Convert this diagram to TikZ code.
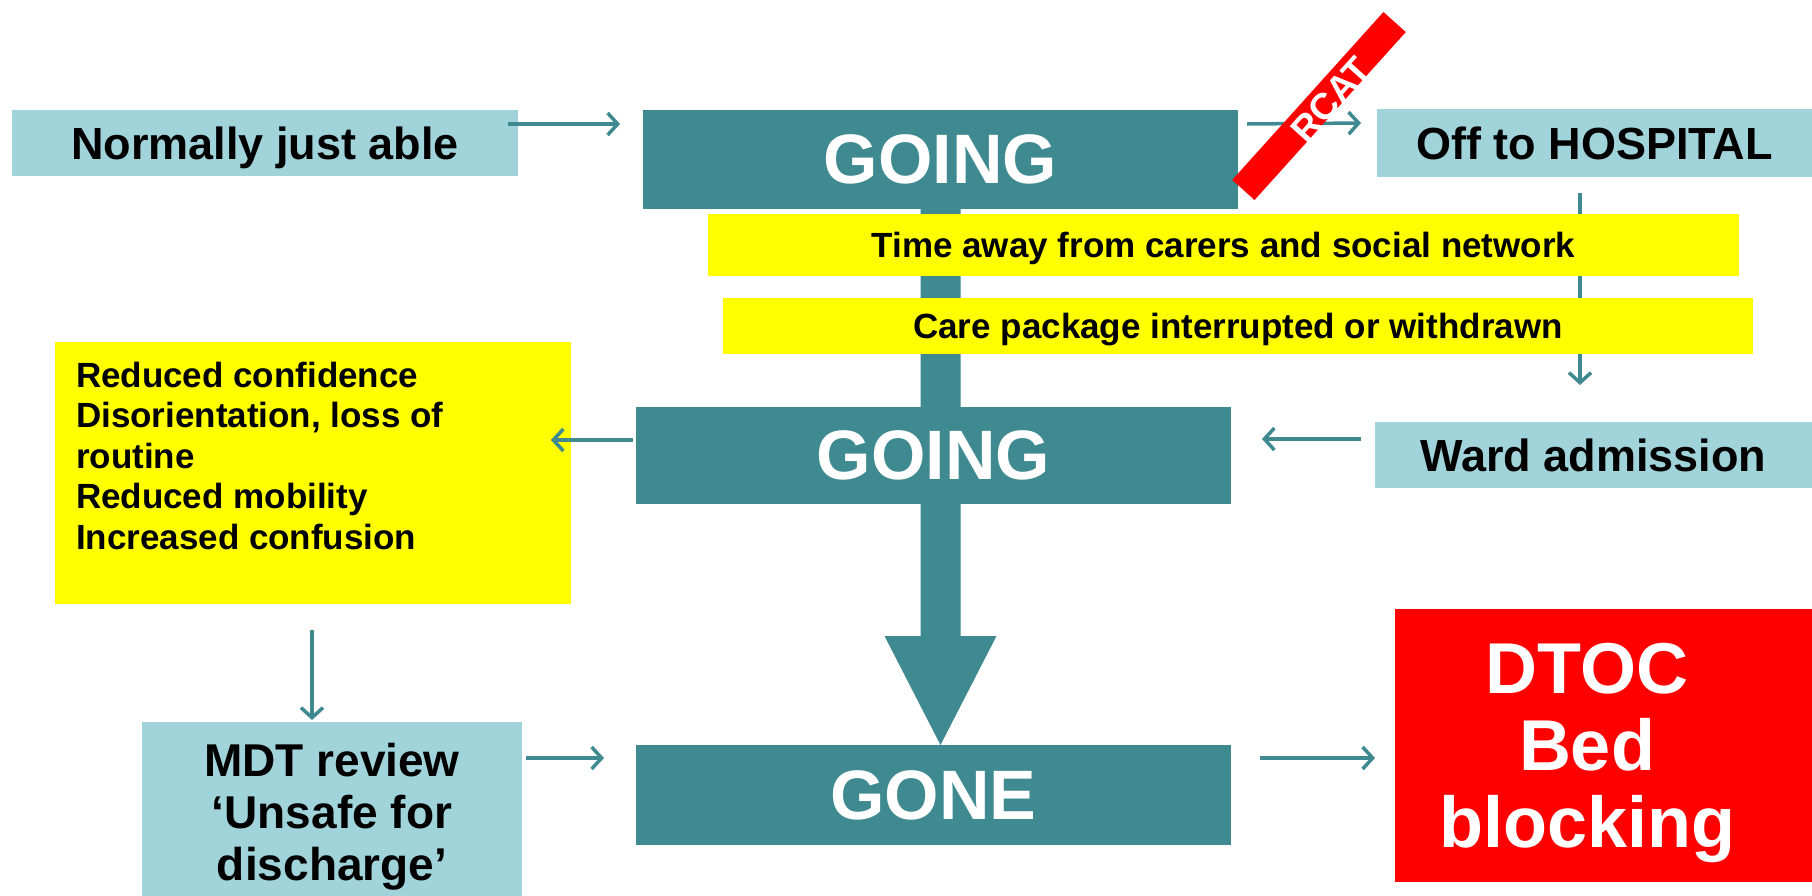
\documentclass[tikz,border=0pt]{standalone}
\usepackage{fontspec}
\setmainfont{Liberation Sans}
\usetikzlibrary{arrows.meta,calc}
\definecolor{tealdk}{HTML}{3E8A90}
\definecolor{tealarr}{HTML}{3E8A90}
\definecolor{teallt}{HTML}{A0D3DA}
\definecolor{yel}{HTML}{FFFF00}
\definecolor{redc}{HTML}{FF0000}
\pgfdeclarelayer{back}
\pgfdeclarelayer{bg}
\pgfsetlayers{back,bg,main}
\begin{document}
\begin{tikzpicture}[x=1pt,y=-1pt,
  every node/.style={inner sep=0pt, outer sep=0pt},
  lightbox/.style={fill=teallt, text=black, font=\fontsize{45}{52}\selectfont\bfseries},
  darkbox/.style={fill=tealdk, text=white, font=\fontsize{70}{80}\selectfont\bfseries, minimum width=595pt},
  yband/.style={fill=yel, text=black, text depth=0pt, font=\fontsize{35}{40}\selectfont\bfseries},
  arr/.style={draw=tealarr, line width=3.5pt, -{Straight Barb[length=10pt,width=22pt]}},
]
\begin{pgfonlayer}{back}
\fill[white] (0,0) rectangle (1812,895);
\end{pgfonlayer}
\useasboundingbox (0,0) rectangle (1812,895);

% boxes
\node[lightbox, text depth=0pt, minimum width=506pt, minimum height=66pt] (nja) at (265,143) {Normally just able};
\node[darkbox, minimum height=99pt] (going1) at (940.5,159.5) {GOING};
\node[lightbox, minimum width=435pt, minimum height=68pt] (oth) at (1594.5,143) {Off to HOSPITAL};
\node[yband, minimum width=1031pt, minimum height=62pt] (band1) at (1223.5,245) {Time away from carers and social network};
\node[yband, minimum width=1030pt, minimum height=56pt] (band2) at (1238,326) {Care package interrupted or withdrawn};
\node[darkbox, minimum height=97pt] (going2) at (933.5,455.5) {GOING};
\node[lightbox, minimum width=437pt, minimum height=66pt] (ward) at (1593.5,455) {Ward admission};
\node[fill=yel, minimum width=516pt, minimum height=262pt] (yelL) at (313,473) {};
\node[anchor=north west, align=left, font=\fontsize{35}{40.5}\selectfont\bfseries] (yelLtext) at (76,362)
  {Reduced confidence\\Disorientation, loss of\\routine\\Reduced mobility\\Increased confusion};
\node[lightbox, minimum width=380pt, minimum height=190pt, align=center,
  font=\fontsize{46}{52}\selectfont\bfseries] (mdt) at (332,817) {MDT review\\‘Unsafe for\\discharge’};
\node[darkbox, minimum height=100pt] (gone) at (933.5,795) {GONE};
\node[fill=redc, minimum width=417pt, minimum height=273pt] (dtoc) at (1603.5,745.5) {};
\node[text=white, align=center, font=\fontsize{72}{77}\selectfont\bfseries] (dtoctext) at (1587,753) {DTOC\\Bed\\blocking};

% big arrow and vertical thin arrow behind
\begin{pgfonlayer}{bg}
\fill[tealdk] ($(going1.south)+(-20,-1)$) -- ($(going1.south)+(20,-1)$)
  -- ($(going1.south |- gone.north)+(20,-109)$) -- ($(going1.south |- gone.north)+(56,-109)$)
  -- (going1.south |- gone.north)
  -- ($(going1.south |- gone.north)+(-56,-109)$) -- ($(going1.south |- gone.north)+(-20,-109)$) -- cycle;
\draw[arr] ($(oth.south)+(-14.5,16)$) -- ($(ward.north)+(-13.5,-37)$);
\end{pgfonlayer}

% connectors
\draw[arr] ($(nja.north east)+(-10,14)$) -- ($(going1.north west)+(-23,14)$);
\draw[arr] ($(going1.north east)+(9,14)$) -- ($(oth.north west)+(-16,14)$);
\draw[arr] ($(ward.north west)+(-14,17)$) -- ($(going2.north east)+(31,32)$);
\draw[arr] ($(going2.north west)+(-3,33)$) -- ($(yelL.north east)+(-20,98)$);
\draw[arr] ($(yelL.south)+(-1,26)$) -- ($(mdt.north)+(-20,-2)$);
\draw[arr] ($(mdt.north east)+(4,36)$) -- ($(gone.north west)+(-32,13)$);
\draw[arr] ($(gone.north east)+(29,13)$) -- ($(dtoc.north west)+(-20,149)$);

% RCAT band
\node[fill=redc, rotate=48, minimum width=226pt, minimum height=30pt] (rcatband) at (1319,106) {};
\node[text=white, rotate=48, font=\fontsize{37}{40}\selectfont\bfseries] (rcat) at (1331,100) {RCAT};
\end{tikzpicture}
\end{document}
